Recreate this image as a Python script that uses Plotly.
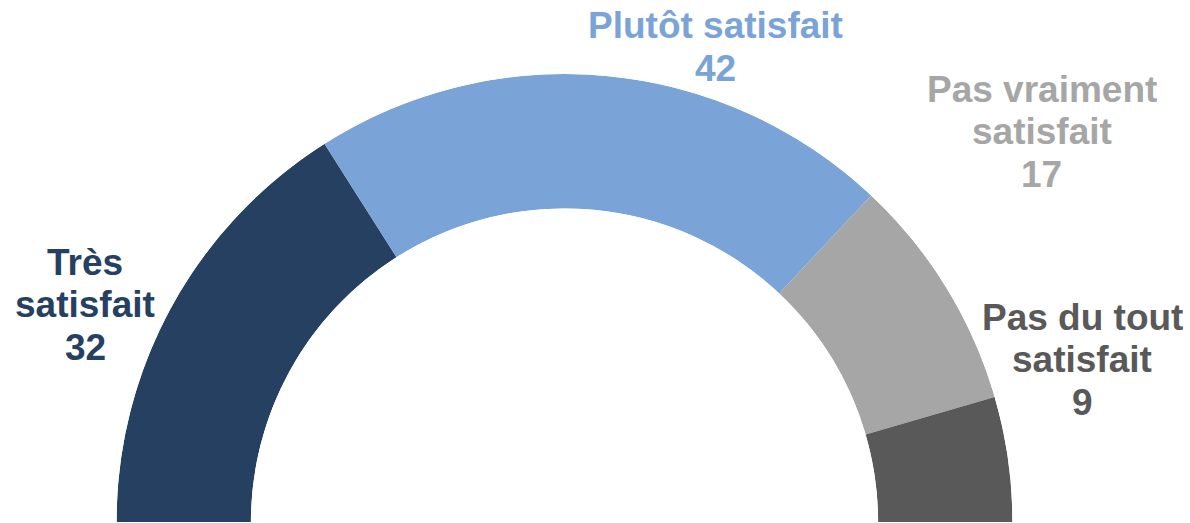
import plotly.graph_objects as go

# Satisfaction split, drawn as a half-donut from left to right
categories = ["Très satisfait", "Plutôt satisfait", "Pas vraiment satisfait", "Pas du tout satisfait"]
values = [32, 42, 17, 9]
label_lines = [
    ["Très", "satisfait"],
    ["Plutôt satisfait"],
    ["Pas vraiment", "satisfait"],
    ["Pas du tout", "satisfait"],
]
colors = ["#264061", "#7AA3D7", "#A6A6A6", "#595959"]

W, H = 1190, 523
FONT = "Liberation Sans, Arial, sans-serif"
FS = 37
LINE = 42.7

# Label block anchors in pixels: centre x, centre y of first line
label_pos = [(85, 262), (715.5, 25.5), (1041.5, 89), (1082, 317)]

total = sum(values)
thetas, widths = [], []
cum = 0
for v in values:
    thetas.append(180 - (cum + v / 2) * 180 / total)
    widths.append(v * 180 / total)
    cum += v

fig = go.Figure(
    go.Barpolar(
        r=[1] * len(values),
        theta=thetas,
        width=widths,
        base=0,
        marker=dict(color=colors, line=dict(width=0)),
        hoverinfo="skip",
        showlegend=False,
    )
)

annotations = []
for lines, v, c, (px, py) in zip(label_lines, values, colors, label_pos):
    for i, t in enumerate(lines + [str(v)]):
        annotations.append(
            dict(
                x=px / W,
                y=1 - (py + i * LINE) / H,
                xref="paper",
                yref="paper",
                text="<b>" + t + "</b>",
                showarrow=False,
                xanchor="center",
                yanchor="middle",
                font=dict(family=FONT, size=FS, color=c),
            )
        )

fig.update_layout(
    width=W,
    height=H,
    margin=dict(l=0, r=0, t=0, b=0),
    paper_bgcolor="white",
    plot_bgcolor="white",
    polar=dict(
        domain=dict(x=[116.5 / W, 1012.5 / W], y=[1 / H, 1 - 74 / H]),
        sector=[0, 180],
        hole=0.7,
        bgcolor="white",
        radialaxis=dict(visible=False, range=[0, 1]),
        angularaxis=dict(
            visible=False,
            showgrid=False,
            showline=False,
            showticklabels=False,
            ticks="",
            direction="counterclockwise",
            rotation=0,
        ),
    ),
    annotations=annotations,
)

fig.write_html("out.html")
